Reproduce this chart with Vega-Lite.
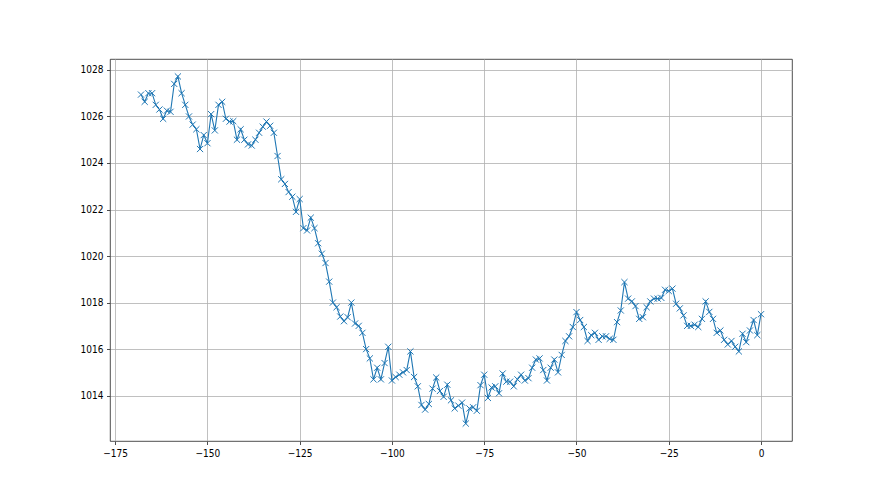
{
  "$schema": "https://vega.github.io/schema/vega-lite/v6.json",
  "width": 682,
  "height": 382,
  "autosize": {"type": "none"},
  "padding": {"left": 110, "top": 59, "right": 88, "bottom": 54},
  "background": "white",
  "config": {
    "view": {"stroke": "#222222", "strokeWidth": 0.8},
    "axis": {
      "grid": true,
      "gridColor": "#b0b0b0",
      "gridWidth": 0.8,
      "domain": false,
      "ticks": true,
      "tickColor": "#222222",
      "tickSize": 3.5,
      "tickWidth": 0.8,
      "labelFont": "Liberation Sans Narrow, DejaVu Sans Condensed, DejaVu Sans",
      "labelFontSize": 10,
      "labelColor": "#000000",
      "labelPadding": 3.5,
      "title": null
    }
  },
  "data": {
    "values": [
      {"t": -168, "p": 1026.94}, {"t": -167, "p": 1026.63}, {"t": -166, "p": 1027.0}, {"t": -165, "p": 1027.0},
      {"t": -164, "p": 1026.5}, {"t": -163, "p": 1026.3}, {"t": -162, "p": 1025.9}, {"t": -161, "p": 1026.25},
      {"t": -160, "p": 1026.2}, {"t": -159, "p": 1027.4}, {"t": -158, "p": 1027.72}, {"t": -157, "p": 1027.0},
      {"t": -156, "p": 1026.5}, {"t": -155, "p": 1026.0}, {"t": -154, "p": 1025.65}, {"t": -153, "p": 1025.45},
      {"t": -152, "p": 1024.6}, {"t": -151, "p": 1025.2}, {"t": -150, "p": 1024.85}, {"t": -149, "p": 1026.1},
      {"t": -148, "p": 1025.4}, {"t": -147, "p": 1026.5}, {"t": -146, "p": 1026.63}, {"t": -145, "p": 1025.9},
      {"t": -144, "p": 1025.78}, {"t": -143, "p": 1025.8}, {"t": -142, "p": 1025.0}, {"t": -141, "p": 1025.45},
      {"t": -140, "p": 1025.0}, {"t": -139, "p": 1024.8}, {"t": -138, "p": 1024.75}, {"t": -137, "p": 1025.0},
      {"t": -136, "p": 1025.3}, {"t": -135, "p": 1025.56}, {"t": -134, "p": 1025.78}, {"t": -133, "p": 1025.6},
      {"t": -132, "p": 1025.3}, {"t": -131, "p": 1024.3}, {"t": -130, "p": 1023.3}, {"t": -129, "p": 1023.1},
      {"t": -128, "p": 1022.75}, {"t": -127, "p": 1022.55}, {"t": -126, "p": 1021.9}, {"t": -125, "p": 1022.45},
      {"t": -124, "p": 1021.2}, {"t": -123, "p": 1021.1}, {"t": -122, "p": 1021.65}, {"t": -121, "p": 1021.2},
      {"t": -120, "p": 1020.55}, {"t": -119, "p": 1020.1}, {"t": -118, "p": 1019.7}, {"t": -117, "p": 1018.9},
      {"t": -116, "p": 1018.0}, {"t": -115, "p": 1017.8}, {"t": -114, "p": 1017.4}, {"t": -113, "p": 1017.2},
      {"t": -112, "p": 1017.37}, {"t": -111, "p": 1018.0}, {"t": -110, "p": 1017.1}, {"t": -109, "p": 1017.0},
      {"t": -108, "p": 1016.7}, {"t": -107, "p": 1016.0}, {"t": -106, "p": 1015.6}, {"t": -105, "p": 1014.7},
      {"t": -104, "p": 1015.2}, {"t": -103, "p": 1014.7}, {"t": -102, "p": 1015.4}, {"t": -101, "p": 1016.1},
      {"t": -100, "p": 1014.65}, {"t": -99, "p": 1014.8}, {"t": -98, "p": 1014.9}, {"t": -97, "p": 1015.0},
      {"t": -96, "p": 1015.1}, {"t": -95, "p": 1015.9}, {"t": -94, "p": 1014.8}, {"t": -93, "p": 1014.4},
      {"t": -92, "p": 1013.6}, {"t": -91, "p": 1013.4}, {"t": -90, "p": 1013.64}, {"t": -89, "p": 1014.3},
      {"t": -88, "p": 1014.78}, {"t": -87, "p": 1014.2}, {"t": -86, "p": 1013.95}, {"t": -85, "p": 1014.47},
      {"t": -84, "p": 1013.8}, {"t": -83, "p": 1013.45}, {"t": -82, "p": 1013.57}, {"t": -81, "p": 1013.7},
      {"t": -80, "p": 1012.8}, {"t": -79, "p": 1013.45}, {"t": -78, "p": 1013.5}, {"t": -77, "p": 1013.35},
      {"t": -76, "p": 1014.45}, {"t": -75, "p": 1014.9}, {"t": -74, "p": 1013.9}, {"t": -73, "p": 1014.35},
      {"t": -72, "p": 1014.4}, {"t": -71, "p": 1014.1}, {"t": -70, "p": 1014.95}, {"t": -69, "p": 1014.6},
      {"t": -68, "p": 1014.6}, {"t": -67, "p": 1014.4}, {"t": -66, "p": 1014.7}, {"t": -65, "p": 1014.9},
      {"t": -64, "p": 1014.65}, {"t": -63, "p": 1014.75}, {"t": -62, "p": 1015.2}, {"t": -61, "p": 1015.55},
      {"t": -60, "p": 1015.6}, {"t": -59, "p": 1015.1}, {"t": -58, "p": 1014.65}, {"t": -57, "p": 1015.2},
      {"t": -56, "p": 1015.55}, {"t": -55, "p": 1015.0}, {"t": -54, "p": 1015.75}, {"t": -53, "p": 1016.35},
      {"t": -52, "p": 1016.55}, {"t": -51, "p": 1016.95}, {"t": -50, "p": 1017.59}, {"t": -49, "p": 1017.25},
      {"t": -48, "p": 1016.95}, {"t": -47, "p": 1016.35}, {"t": -46, "p": 1016.6}, {"t": -45, "p": 1016.7},
      {"t": -44, "p": 1016.4}, {"t": -43, "p": 1016.55}, {"t": -42, "p": 1016.55}, {"t": -41, "p": 1016.44},
      {"t": -40, "p": 1016.4}, {"t": -39, "p": 1017.16}, {"t": -38, "p": 1017.66}, {"t": -37, "p": 1018.88},
      {"t": -36, "p": 1018.17}, {"t": -35, "p": 1018.05}, {"t": -34, "p": 1017.85}, {"t": -33, "p": 1017.3},
      {"t": -32, "p": 1017.37}, {"t": -31, "p": 1017.8}, {"t": -30, "p": 1018.05}, {"t": -29, "p": 1018.17},
      {"t": -28, "p": 1018.17}, {"t": -27, "p": 1018.2}, {"t": -26, "p": 1018.55}, {"t": -25, "p": 1018.5},
      {"t": -24, "p": 1018.6}, {"t": -23, "p": 1017.95}, {"t": -22, "p": 1017.75}, {"t": -21, "p": 1017.45},
      {"t": -20, "p": 1017.0}, {"t": -19, "p": 1017.0}, {"t": -18, "p": 1017.05}, {"t": -17, "p": 1016.95},
      {"t": -16, "p": 1017.3}, {"t": -15, "p": 1018.05}, {"t": -14, "p": 1017.6}, {"t": -13, "p": 1017.3},
      {"t": -12, "p": 1016.7}, {"t": -11, "p": 1016.8}, {"t": -10, "p": 1016.4}, {"t": -9, "p": 1016.2},
      {"t": -8, "p": 1016.35}, {"t": -7, "p": 1016.1}, {"t": -6, "p": 1015.9}, {"t": -5, "p": 1016.66},
      {"t": -4, "p": 1016.3}, {"t": -3, "p": 1016.8}, {"t": -2, "p": 1017.25}, {"t": -1, "p": 1016.6},
      {"t": 0, "p": 1017.5}
    ]
  },
  "encoding": {
    "x": {
      "field": "t",
      "type": "quantitative",
      "scale": {"domain": [-176.4, 8.4], "nice": false, "zero": false},
      "axis": {"values": [-175, -150, -125, -100, -75, -50, -25, 0], "format": "d"}
    },
    "y": {
      "field": "p",
      "type": "quantitative",
      "scale": {"domain": [1012.05, 1028.47], "nice": false, "zero": false},
      "axis": {"values": [1014, 1016, 1018, 1020, 1022, 1024, 1026, 1028], "format": "d"}
    }
  },
  "layer": [
    {"mark": {"type": "line", "color": "#1f77b4", "strokeWidth": 1.1, "clip": true}},
    {"mark": {"type": "point", "shape": "M-1,-1L1,1M-1,1L1,-1", "filled": false, "color": "#1f77b4", "size": 38, "strokeWidth": 1, "opacity": 1, "clip": true}}
  ]
}
